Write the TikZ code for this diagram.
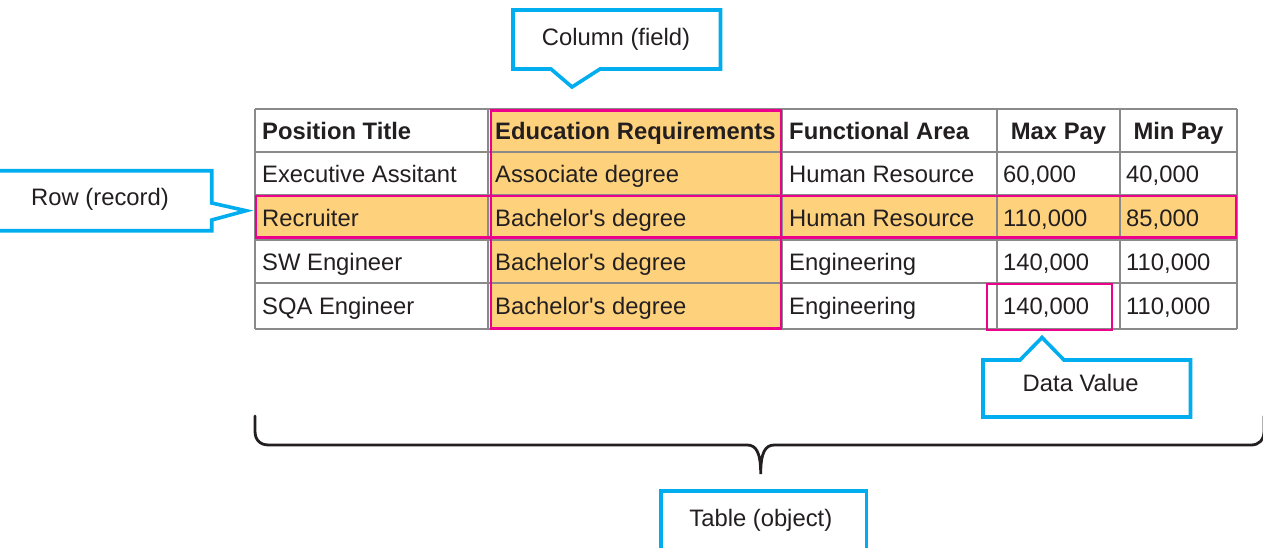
\documentclass[tikz,border=0pt]{standalone}
\usepackage{fontspec}
\setmainfont{Liberation Sans}
\usetikzlibrary{calc}
\definecolor{cblue}{RGB}{0,174,239}
\definecolor{cpink}{RGB}{236,0,140}
\definecolor{corange}{RGB}{254,210,125}
\definecolor{cgrid}{RGB}{138,138,138}
\definecolor{ctext}{RGB}{35,31,32}
\tikzset{
  cell/.style={anchor=base west, inner sep=0pt, text=ctext, font=\fontsize{23.8}{28}\selectfont},
  hcell/.style={cell, font=\fontsize{23.8}{28}\selectfont\bfseries},
  ccell/.style={hcell, anchor=base},
  calltext/.style={anchor=base, inner sep=0pt, text=ctext, font=\fontsize{23.8}{28}\selectfont},
  callout/.style={draw=cblue, line width=3.6pt, fill=white, line join=miter},
  grid/.style={draw=cgrid, line width=2pt},
  hilite/.style={draw=cpink, line width=2.8pt},
  bracepath/.style={draw=ctext, line width=2.8pt, line cap=round}
}
\begin{document}
\begin{tikzpicture}[x=1pt,y=-1pt]
\useasboundingbox[fill=white] (0,0) rectangle (1263,547);
% fills
\fill[corange] (490,109) rectangle (782,329);
\fill[corange] (255,195) rectangle (1237,239);
% grid
\foreach \yy in {109,152,195,240,283,329} \draw[grid] (255,\yy) -- (1237,\yy);
\foreach \xx in {255,488,782,997,1120,1237} \draw[grid] (\xx,109) -- (\xx,329);
% highlights
\draw[hilite] (491,110.5) rectangle (781,328.5);
\draw[hilite] (256,196) rectangle (1236,237.5);
\draw[hilite] (987,284) rectangle (1112,330);
% header
\node[hcell] (r1c1) at (262,139) {Position Title};
\node[hcell] (r1c2) at (495,139) {Education Requirements};
\node[hcell] (r1c3) at (789,139) {Functional Area};
\node[ccell] (r1c4) at (1058.5,139) {Max Pay};
\node[ccell] (r1c5) at (1178.5,139) {Min Pay};
% row 2
\node[cell] (r2c1) at (262,182) {Executive Assitant};
\node[cell] (r2c2) at (495,182) {Associate degree};
\node[cell] (r2c3) at (789,182) {Human Resource};
\node[cell] (r2c4) at (1003,182) {60,000};
\node[cell] (r2c5) at (1126,182) {40,000};
% row 3
\node[cell] (r3c1) at (262,226) {Recruiter};
\node[cell] (r3c2) at (495,226) {Bachelor\textquotesingle s degree};
\node[cell] (r3c3) at (789,226) {Human Resource};
\node[cell] (r3c4) at (1003,226) {110,000};
\node[cell] (r3c5) at (1126,226) {85,000};
% row 4
\node[cell] (r4c1) at (262,270) {SW Engineer};
\node[cell] (r4c2) at (495,270) {Bachelor\textquotesingle s degree};
\node[cell] (r4c3) at (789,270) {Engineering};
\node[cell] (r4c4) at (1003,270) {140,000};
\node[cell] (r4c5) at (1126,270) {110,000};
% row 5
\node[cell] (r5c1) at (262,314.5) {SQA Engineer};
\node[cell] (r5c2) at (495,314.5) {Bachelor\textquotesingle s degree};
\node[cell] (r5c3) at (789,314.5) {Engineering};
\node[cell] (r5c4) at (1003,314.5) {140,000};
\node[cell] (r5c5) at (1126,314.5) {110,000};
% column callout
\draw[callout] (513,10) -- (720.5,10) -- (720.5,69) -- (600,69) -- (572,87) -- (551,69) -- (513,69) -- cycle;
\node[calltext] (colcall) at (616,45.7) {Column (field)};
% row callout
\draw[callout] (-12,170.7) -- (211.7,170.7) -- (211.7,203) -- (246,210.7) -- (211.7,220) -- (211.7,230.7) -- (-12,230.7) -- cycle;
\node[calltext] (rowcall) at (100,205) {Row (record)};
% data value callout
\draw[callout] (983,360) -- (1020,360) -- (1042,337.5) -- (1064,360) -- (1190.5,360) -- (1190.5,417) -- (983,417) -- cycle;
\node[calltext] (datacall) at (1080.7,391) {Data Value};
% table callout
\draw[callout] (661,491) -- (866.5,491) -- (866.5,560) -- (661,560) -- cycle;
\node[calltext] (tabcall) at (760.8,526.7) {Table (object)};
% brace
\draw[bracepath] (255,416) -- (255,431) .. controls (255,440) and (260,445) .. (269,445)
  -- (747,445) .. controls (756,445) and (760.7,452) .. (760.7,474)
  .. controls (760.7,452) and (765.4,445) .. (774.4,445)
  -- (1251,445) .. controls (1259,445) and (1264,440) .. (1264,431) -- (1264,416);
\end{tikzpicture}
\end{document}
